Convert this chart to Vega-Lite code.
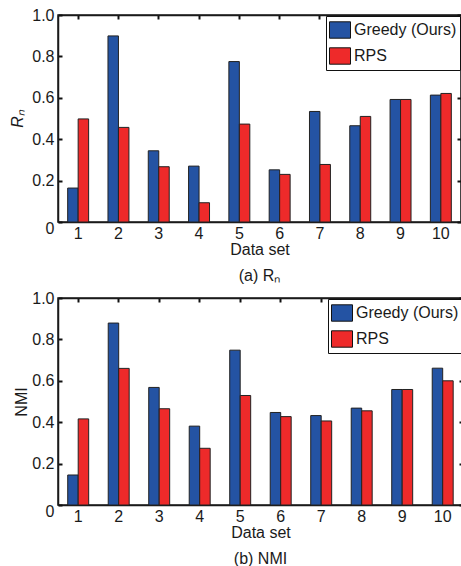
{
  "$schema": "https://vega.github.io/schema/vega-lite/v6.json",
  "padding": {"left": 9, "top": 6, "right": 1, "bottom": 0},
  "spacing": 4,
  "resolve": {"legend": {"color": "independent"}},
  "datasets": {
    "rn": [
      {"set": 1, "method": "Greedy (Ours)", "value": 0.164},
      {"set": 1, "method": "RPS", "value": 0.498},
      {"set": 2, "method": "Greedy (Ours)", "value": 0.899},
      {"set": 2, "method": "RPS", "value": 0.457},
      {"set": 3, "method": "Greedy (Ours)", "value": 0.344},
      {"set": 3, "method": "RPS", "value": 0.267},
      {"set": 4, "method": "Greedy (Ours)", "value": 0.27},
      {"set": 4, "method": "RPS", "value": 0.093},
      {"set": 5, "method": "Greedy (Ours)", "value": 0.775},
      {"set": 5, "method": "RPS", "value": 0.473},
      {"set": 6, "method": "Greedy (Ours)", "value": 0.252},
      {"set": 6, "method": "RPS", "value": 0.23},
      {"set": 7, "method": "Greedy (Ours)", "value": 0.534},
      {"set": 7, "method": "RPS", "value": 0.278},
      {"set": 8, "method": "Greedy (Ours)", "value": 0.465},
      {"set": 8, "method": "RPS", "value": 0.51},
      {"set": 9, "method": "Greedy (Ours)", "value": 0.592},
      {"set": 9, "method": "RPS", "value": 0.592},
      {"set": 10, "method": "Greedy (Ours)", "value": 0.613},
      {"set": 10, "method": "RPS", "value": 0.621}
    ],
    "nmi": [
      {"set": 1, "method": "Greedy (Ours)", "value": 0.145},
      {"set": 1, "method": "RPS", "value": 0.416},
      {"set": 2, "method": "Greedy (Ours)", "value": 0.879},
      {"set": 2, "method": "RPS", "value": 0.66},
      {"set": 3, "method": "Greedy (Ours)", "value": 0.568},
      {"set": 3, "method": "RPS", "value": 0.465},
      {"set": 4, "method": "Greedy (Ours)", "value": 0.381},
      {"set": 4, "method": "RPS", "value": 0.274},
      {"set": 5, "method": "Greedy (Ours)", "value": 0.748},
      {"set": 5, "method": "RPS", "value": 0.529},
      {"set": 6, "method": "Greedy (Ours)", "value": 0.447},
      {"set": 6, "method": "RPS", "value": 0.427},
      {"set": 7, "method": "Greedy (Ours)", "value": 0.432},
      {"set": 7, "method": "RPS", "value": 0.406},
      {"set": 8, "method": "Greedy (Ours)", "value": 0.468},
      {"set": 8, "method": "RPS", "value": 0.455},
      {"set": 9, "method": "Greedy (Ours)", "value": 0.558},
      {"set": 9, "method": "RPS", "value": 0.558},
      {"set": 10, "method": "Greedy (Ours)", "value": 0.661},
      {"set": 10, "method": "RPS", "value": 0.6}
    ]
  },
  "config": {
    "font": "Liberation Sans",
    "view": {"stroke": "#1a1a1a", "strokeWidth": 1.5},
    "axis": {
      "labelFont": "Liberation Sans",
      "labelFontSize": 16,
      "labelColor": "#1a1a1a",
      "titleFont": "Liberation Sans",
      "titleFontSize": 16,
      "titleFontWeight": "normal",
      "titleColor": "#1a1a1a",
      "tickColor": "#111111",
      "tickSize": -4,
      "tickWidth": 2,
      "domainColor": "#1a1a1a",
      "domainWidth": 1.5,
      "grid": false
    },
    "legend": {
      "orient": "top-right",
      "offset": 1,
      "strokeColor": "#111111",
      "fillColor": "white",
      "padding": 3,
      "symbolType": "M-1,-0.78H1V0.78H-1Z",
      "symbolSize": 441,
      "symbolStrokeColor": "#111111",
      "symbolStrokeWidth": 1,
      "symbolOpacity": 1,
      "labelFont": "Liberation Sans",
      "labelFontSize": 16,
      "labelColor": "#1a1a1a",
      "labelOffset": 3,
      "rowPadding": 4,
      "title": null
    },
    "title": {"font": "Liberation Sans", "fontSize": 16, "fontWeight": "normal", "color": "#1a1a1a"}
  },
  "vconcat": [
    {
      "data": {"name": "rn"},
      "width": 403,
      "height": 207,
      "title": {"text": "(a) Rₙ", "orient": "bottom", "offset": 11},
      "layer": [
        {
          "mark": {"type": "bar", "stroke": "#222222", "strokeWidth": 1},
          "encoding": {
            "x": {"field": "set", "type": "ordinal", "scale": {"paddingInner": 0.48, "paddingOuter": 0.24}, "axis": {"title": "Data set", "labelAngle": 0, "labelPadding": 7, "titlePadding": 0}},
            "xOffset": {"field": "method", "type": "nominal", "sort": ["Greedy (Ours)", "RPS"]},
            "y": {"field": "value", "type": "quantitative", "scale": {"domain": [0, 1]}, "axis": {"title": "Rₙ", "titleFontStyle": "italic", "values": [0, 0.2, 0.4, 0.6, 0.8, 1.0], "labelExpr": "datum.value == 0 ? '0' : format(datum.value, '.1f')", "labelOffset": {"condition": {"test": "datum.value == 0", "value": 6}, "value": 0}, "labelPadding": 8, "titlePadding": 6}},
            "color": {"field": "method", "type": "nominal", "scale": {"domain": ["Greedy (Ours)", "RPS"], "range": ["#2453a3", "#ee2a2a"]}}
          }
        },
        {
          "mark": {"type": "point", "opacity": 0},
          "encoding": {
            "x": {"field": "set", "type": "ordinal", "axis": {"orient": "top", "labels": false, "title": null}},
            "y": {"field": "value", "type": "quantitative", "axis": {"orient": "right", "labels": false, "title": null, "values": [0, 0.2, 0.4, 0.6, 0.8, 1.0]}}
          }
        }
      ],
      "resolve": {"axis": {"x": "independent", "y": "independent"}}
    },
    {
      "data": {"name": "nmi"},
      "width": 405,
      "height": 207,
      "title": {"text": "(b) NMI", "orient": "bottom", "offset": 11},
      "layer": [
        {
          "mark": {"type": "bar", "stroke": "#222222", "strokeWidth": 1},
          "encoding": {
            "x": {"field": "set", "type": "ordinal", "scale": {"paddingInner": 0.48, "paddingOuter": 0.24}, "axis": {"title": "Data set", "labelAngle": 0, "labelPadding": 7, "titlePadding": 0}},
            "xOffset": {"field": "method", "type": "nominal", "sort": ["Greedy (Ours)", "RPS"]},
            "y": {"field": "value", "type": "quantitative", "scale": {"domain": [0, 1]}, "axis": {"title": "NMI", "values": [0, 0.2, 0.4, 0.6, 0.8, 1.0], "labelExpr": "datum.value == 0 ? '0' : format(datum.value, '.1f')", "labelOffset": {"condition": {"test": "datum.value == 0", "value": 6}, "value": 0}, "labelPadding": 8, "titlePadding": 2}},
            "color": {"field": "method", "type": "nominal", "scale": {"domain": ["Greedy (Ours)", "RPS"], "range": ["#2453a3", "#ee2a2a"]}}
          }
        },
        {
          "mark": {"type": "point", "opacity": 0},
          "encoding": {
            "x": {"field": "set", "type": "ordinal", "axis": {"orient": "top", "labels": false, "title": null}},
            "y": {"field": "value", "type": "quantitative", "axis": {"orient": "right", "labels": false, "title": null, "values": [0, 0.2, 0.4, 0.6, 0.8, 1.0]}}
          }
        }
      ],
      "resolve": {"axis": {"x": "independent", "y": "independent"}}
    }
  ]
}
